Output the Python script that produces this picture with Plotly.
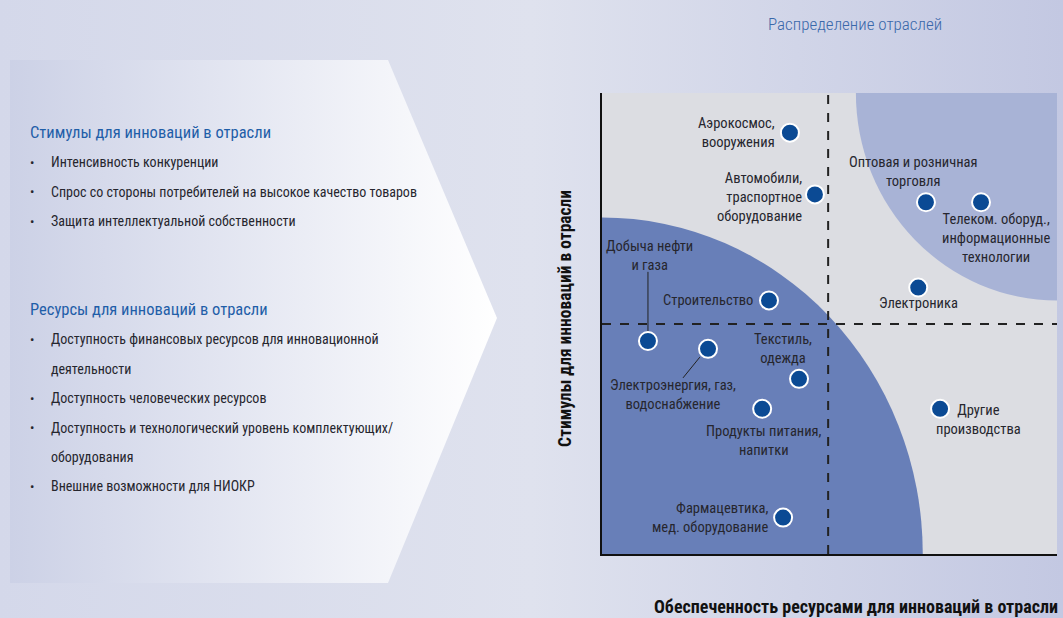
import base64
import plotly.graph_objects as go

W, H = 1063, 618

# --- данные: отрасли (x = ресурсы, y = стимулы) ---
industries = [
    "Аэрокосмос,<br>вооружения",
    "Автомобили,<br>траспортное<br>оборудование",
    "Оптовая и розничная<br>торговля",
    "Телеком. оборуд.,<br>информационные<br>технологии",
    "Электроника",
    "Строительство",
    "Добыча нефти<br>и газа",
    "Электроэнергия, газ,<br>водоснабжение",
    "Текстиль,<br>одежда",
    "Продукты питания,<br>напитки",
    "Другие<br>производства",
    "Фармацевтика,<br>мед. оборудование",
]
resources = [4.13, 4.68, 7.12, 8.33, 6.95, 3.67, 1.01, 2.33, 4.33, 3.52, 7.43, 3.98]
stimuli = [9.14, 7.80, 7.63, 7.63, 5.78, 5.50, 4.62, 4.45, 3.80, 3.15, 3.15, 0.79]

# подписи: (xanchor, xshift, yshift, align)
label_style = [
    ("right", -13, 0, "right"),
    ("right", -11, -3, "right"),
    ("center", -13, 30, "center"),
    ("center", 15, -36, "center"),
    ("center", 0, -16, "center"),
    ("right", -14, 0, "right"),
    ("center", 2, 85, "center"),
    ("center", -35, -46, "center"),
    ("center", -16, 30, "center"),
    ("center", 2, -32, "center"),
    ("center", 38, -11, "center"),
    ("right", -13, 0, "right"),
]

stimuli_title = "Стимулы для инноваций в отрасли"
stimuli_items = [
    "Интенсивность конкуренции",
    "Спрос со стороны потребителей на высокое качество товаров",
    "Защита интеллектуальной собственности",
]
resources_title = "Ресурсы для инноваций в отрасли"
resources_items = [
    ["Доступность финансовых ресурсов для инновационной", "деятельности"],
    ["Доступность человеческих ресурсов"],
    ["Доступность и технологический уровень комплектующих/", "оборудования"],
    ["Внешние возможности для НИОКР"],
]

FONT = "Roboto Condensed, DejaVu Sans Condensed, sans-serif"
TXT = "#26262e"
BLUE_T = "#1f5ea8"

# фон: градиент + белая «стрелка» слева
svg = f"""<svg xmlns='http://www.w3.org/2000/svg' width='{W}' height='{H}' preserveAspectRatio='none'>
<defs>
<linearGradient id='bg' x1='0' x2='1' y1='0' y2='0'>
<stop offset='0' stop-color='#d4d8ea'/><stop offset='0.5' stop-color='#dfe2ee'/>
<stop offset='1' stop-color='#c3c8e2'/></linearGradient>
<linearGradient id='pn' x1='0' x2='1' y1='0' y2='0'>
<stop offset='0' stop-color='#ccd1e6'/><stop offset='1' stop-color='#ffffff'/></linearGradient>
</defs>
<rect width='{W}' height='{H}' fill='url(#bg)'/>
<polygon points='10,60 388,60 497,318 388,583 10,583' fill='url(#pn)'/>
</svg>"""
src = "data:image/svg+xml;base64," + base64.b64encode(svg.encode()).decode()

x0p, x1p, y0p, y1p = 602, 1057, 93, 554  # область графика, пиксели

fig = go.Figure()
fig.add_trace(go.Scatter(
    x=resources, y=stimuli, mode="markers",
    marker=dict(size=18, color="#0b4a94", line=dict(color="white", width=2)),
    hoverinfo="skip", showlegend=False,
))

shapes = [
    dict(type="rect", x0=0, x1=10, y0=0, y1=10, fillcolor="#dcdde2",
         line=dict(width=0), layer="below"),
    dict(type="circle", x0=-7.05, x1=7.05, y0=-7.3, y1=7.3, fillcolor="#687fb8",
         line=dict(width=0), layer="below"),
    dict(type="circle", x0=10 - 4.42, x1=10 + 4.42, y0=10 - 4.5, y1=10 + 4.5,
         fillcolor="#a8b3d6", line=dict(width=0), layer="below"),
    dict(type="line", x0=4.97, x1=4.97, y0=0, y1=10,
         line=dict(color="#222", width=2, dash="dash"), layer="below"),
    dict(type="line", x0=0, x1=10, y0=4.99, y1=4.99,
         line=dict(color="#222", width=2, dash="dash"), layer="below"),
    # выноски
    dict(type="line", x0=1.01, x1=1.01, y0=6.12, y1=4.82,
         line=dict(color="#222", width=1), layer="below"),
    dict(type="line", x0=1.78, x1=2.15, y0=3.82, y1=4.27,
         line=dict(color="#222", width=1), layer="below"),
]

ann = []
for name, xv, yv, (xa, xs, ys, al) in zip(industries, resources, stimuli, label_style):
    ann.append(dict(x=xv, y=yv, text=name, showarrow=False, xanchor=xa, yanchor="middle",
                    xshift=xs, yshift=ys, align=al,
                    font=dict(family=FONT, size=14.5, color=TXT)))


def px(x, y, text, size, color, xa="left", bold=False, angle=0, weight=None):
    f = dict(family=FONT, size=size, color=color)
    if bold:
        f["weight"] = 700
    if weight:
        f["weight"] = weight
    if xa == "left":
        x -= 3  # компенсация внутреннего отступа аннотации
    ann.append(dict(x=x / W, y=1 - y / H, xref="paper", yref="paper", text=text,
                    showarrow=False, xanchor=xa, yanchor="middle", align="left",
                    textangle=angle, font=f))


px(855, 24, "Распределение отраслей", 17, "#3a68aa", xa="center", weight=300)
px(565, 319, "Стимулы для инноваций в отрасли", 17.5, "#111", xa="center", bold=True, angle=-90)
px(1060, 606, "Обеспеченность ресурсами для инноваций в отрасли", 18, "#111", xa="right", bold=True)

# левая панель
px(31, 132, stimuli_title, 16.5, BLUE_T)
y = 162
for item in stimuli_items:
    px(31, y, "•", 13, TXT)
    px(52, y, item, 14, TXT)
    y += 29.5
px(31, 309, resources_title, 16.5, BLUE_T)
y = 339
for item in resources_items:
    px(31, y, "•", 13, TXT)
    for line in item:
        px(52, y, line, 14, TXT)
        y += 29.5

fig.update_layout(
    width=W, height=H, autosize=False,
    margin=dict(l=0, r=0, t=0, b=0),
    paper_bgcolor="#d9dcec", plot_bgcolor="rgba(0,0,0,0)",
    images=[dict(source=src, xref="paper", yref="paper", x=0, y=1, sizex=1, sizey=1,
                 sizing="stretch", layer="below", xanchor="left", yanchor="top")],
    xaxis=dict(domain=[x0p / W, x1p / W], range=[0, 10], showgrid=False, zeroline=False,
               showticklabels=False, ticks="", showline=True, linecolor="#111", linewidth=2),
    yaxis=dict(domain=[1 - y1p / H, 1 - y0p / H], range=[0, 10], showgrid=False, zeroline=False,
               showticklabels=False, ticks="", showline=True, linecolor="#111", linewidth=2),
    shapes=shapes, annotations=ann,
)

fig.write_html("out.html", config={"displayModeBar": False},
               post_script="document.body.style.margin='0';")
